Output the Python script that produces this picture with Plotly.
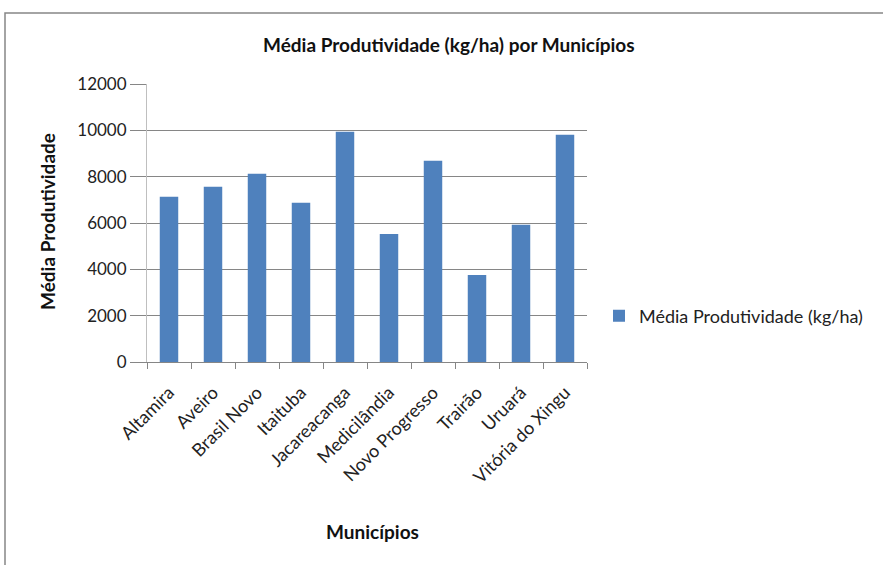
import plotly.graph_objects as go

municipios = ["Altamira", "Aveiro", "Brasil Novo", "Itaituba", "Jacareacanga",
              "Medicilândia", "Novo Progresso", "Trairão", "Uruará", "Vitória do Xingu"]
produtividade = [7130, 7560, 8130, 6870, 9940, 5530, 8690, 3760, 5920, 9810]
y_ticks = [0, 2000, 4000, 6000, 8000, 10000, 12000]

W, H = 883, 565
L, R, T, B = 147, 587, 84, 362
pw, ph = R - L, B - T

def px(x):
    return (x - L) / pw

def py(y):
    return (B - y) / ph

FONT = "Lato, 'Open Sans', sans-serif"
fig = go.Figure()
fig.add_trace(go.Bar(
    x=municipios, y=produtividade, name="Média Produtividade (kg/ha)",
    marker=dict(color="#4F81BD", line=dict(width=0)), showlegend=True,
))

fig.update_layout(
    width=W, height=H, autosize=False,
    margin=dict(l=L, r=W - R, t=T, b=H - B, pad=0),
    paper_bgcolor="white", plot_bgcolor="white",
    bargap=0.58,
    font=dict(family=FONT, size=17, color="#222222"),
    showlegend=True,
    legend=dict(x=px(599), y=py(316), xanchor="left", yanchor="middle",
                font=dict(size=18, color="#222222"), itemwidth=30,
                bgcolor="rgba(0,0,0,0)", borderwidth=0),
    xaxis=dict(
        type="category", tickangle=-45, showgrid=False,
        showline=True, linecolor="#868686", linewidth=1,
        ticks="outside", ticklen=6, tickcolor="#868686",
        tickson="boundaries", tickfont=dict(size=18, color="#222222"),
        ticklabelstandoff=12, automargin=False,
        fixedrange=True,
    ),
    yaxis=dict(
        range=[0, 12000], tickvals=y_ticks, ticktext=[str(v) for v in y_ticks],
        showgrid=True, gridcolor="#868686", gridwidth=1,
        showline=True, linecolor="#BFBFBF", linewidth=1,
        ticks="outside", ticklen=16, tickcolor="#868686",
        tickfont=dict(size=17, color="#222222"), zeroline=False,
        automargin=False, fixedrange=True,
    ),
)

fig.add_annotation(text="<b>Média Produtividade (kg/ha) por Municípios</b>",
                   xref="paper", yref="paper", x=px(449), y=py(45),
                   showarrow=False, font=dict(size=19, color="#111111"),
                   xanchor="center", yanchor="middle")
fig.add_annotation(text="<b>Média Produtividade</b>",
                   xref="paper", yref="paper", x=px(47), y=py(222),
                   showarrow=False, textangle=-90, font=dict(size=19, color="#111111"),
                   xanchor="center", yanchor="middle")
fig.add_annotation(text="<b>Municípios</b>",
                   xref="paper", yref="paper", x=px(372), y=py(531),
                   showarrow=False, font=dict(size=19, color="#111111"),
                   xanchor="center", yanchor="middle")

fig.add_shape(type="rect", xref="paper", yref="paper",
              x0=px(5), x1=px(900), y0=py(13), y1=py(600),
              line=dict(color="#868686", width=1.5), fillcolor="rgba(0,0,0,0)",
              layer="below")

fig.write_html("out.html")
